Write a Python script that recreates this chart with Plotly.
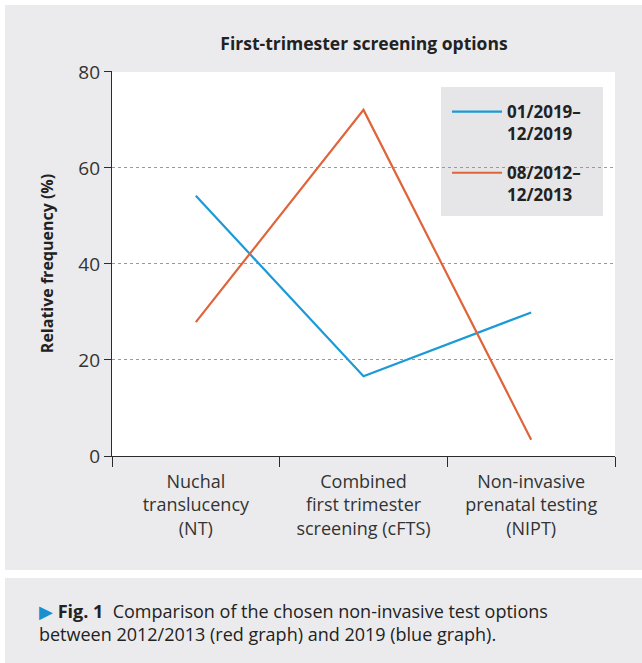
import plotly.graph_objects as go

categories = ["Nuchal<br>translucency<br>(NT)",
              "Combined<br>first trimester<br>screening (cFTS)",
              "Non-invasive<br>prenatal testing<br>(NIPT)"]
series_2019 = [54.2, 16.6, 29.9]
series_2012 = [27.9, 72.1, 3.4]
name_2019 = "<b>01/2019–<br>12/2019</b>"
name_2012 = "<b>08/2012–<br>12/2013</b>"
y_ticks = [0, 20, 40, 60, 80]

W, H = 642, 663
L, R, T, B = 112, 27, 71, 207
PW, PH = W - L - R, H - T - B

def px(x):
    return (x - L) / PW

def py(y):
    return (H - B - y) / PH

FONT = "Open Sans, Roboto, sans-serif"
GREY = "#ebebed"
DARK = "#2b2b2b"

fig = go.Figure()
fig.add_trace(go.Scatter(x=categories, y=series_2019, mode="lines", name=name_2019,
                         legendgroup="a", line=dict(color="#1a9ad6", width=2.2)))
fig.add_trace(go.Scatter(x=categories, y=series_2012, mode="lines", name=name_2012,
                         legendgroup="b", line=dict(color="#e0643a", width=2.2)))

shapes = [
    dict(type="rect", xref="paper", yref="paper", x0=px(5), x1=px(W), y0=py(570), y1=py(5),
         fillcolor=GREY, line=dict(width=0), layer="below"),
    dict(type="rect", xref="paper", yref="paper", x0=px(5), x1=px(W), y0=py(H), y1=py(578),
         fillcolor=GREY, line=dict(width=0), layer="below"),
    dict(type="rect", xref="paper", yref="paper", x0=0, x1=1, y0=0, y1=py(72),
         fillcolor="white", line=dict(width=0), layer="below"),
    dict(type="rect", xref="paper", yref="paper", x0=px(441), x1=px(603), y0=py(216), y1=py(87),
         fillcolor="#e6e6e8", line=dict(width=0), layer="below"),
]

fig.update_layout(
    width=W, height=H,
    margin=dict(l=L, r=R, t=T, b=B, pad=0),
    paper_bgcolor="white", plot_bgcolor="white",
    font=dict(family=FONT, color=DARK),
    shapes=shapes,
    showlegend=True,
    title=dict(text="<b>First-trimester screening options</b>", x=px(364), xref="paper",
               xanchor="center", y=1 - 44 / H, yanchor="middle", yref="container",
               font=dict(size=17.5, color="#222")),
    legend=dict(x=px(447), y=py(94), xanchor="left", yanchor="top",
                bgcolor="rgba(0,0,0,0)", borderwidth=0, valign="top",
                font=dict(size=17, color="#222", family=FONT), tracegroupgap=14,
                itemwidth=50),
    annotations=[dict(
        text="<span style='color:#1a8fd0'>▶</span> <b>Fig. 1</b>  Comparison of the chosen non-invasive test options<br>between 2012/2013 (red graph) and 2019 (blue graph).",
        xref="paper", yref="paper", x=px(37), y=py(622), xanchor="left", yanchor="middle",
        align="left", showarrow=False, font=dict(size=18, color="#222", family=FONT))],
)

fig.update_xaxes(
    type="category", range=[-0.5, 2.5], tickson="boundaries", ticks="outside", ticklen=10,
    tickcolor=DARK, tickwidth=1.2, showline=True, linecolor=DARK, linewidth=1.2,
    showgrid=False, tickfont=dict(size=18, color="#333"), ticklabelstandoff=9,
    fixedrange=True,
)
fig.update_yaxes(
    range=[0, 80.2], tickvals=y_ticks, ticks="outside", ticklen=7, tickcolor=DARK, tickwidth=1.2,
    showline=True, linecolor=DARK, linewidth=1.2, zeroline=False,
    showgrid=True, gridcolor="#9a9a9a", griddash="dot", gridwidth=1,
    tickfont=dict(size=19, color="#333"),
    title=dict(text="<b>Relative frequency (%)</b>", font=dict(size=16, color="#222"), standoff=20),
)

fig.write_html("out.html", config={"displayModeBar": False},
               post_script="document.body.style.margin='0';")
